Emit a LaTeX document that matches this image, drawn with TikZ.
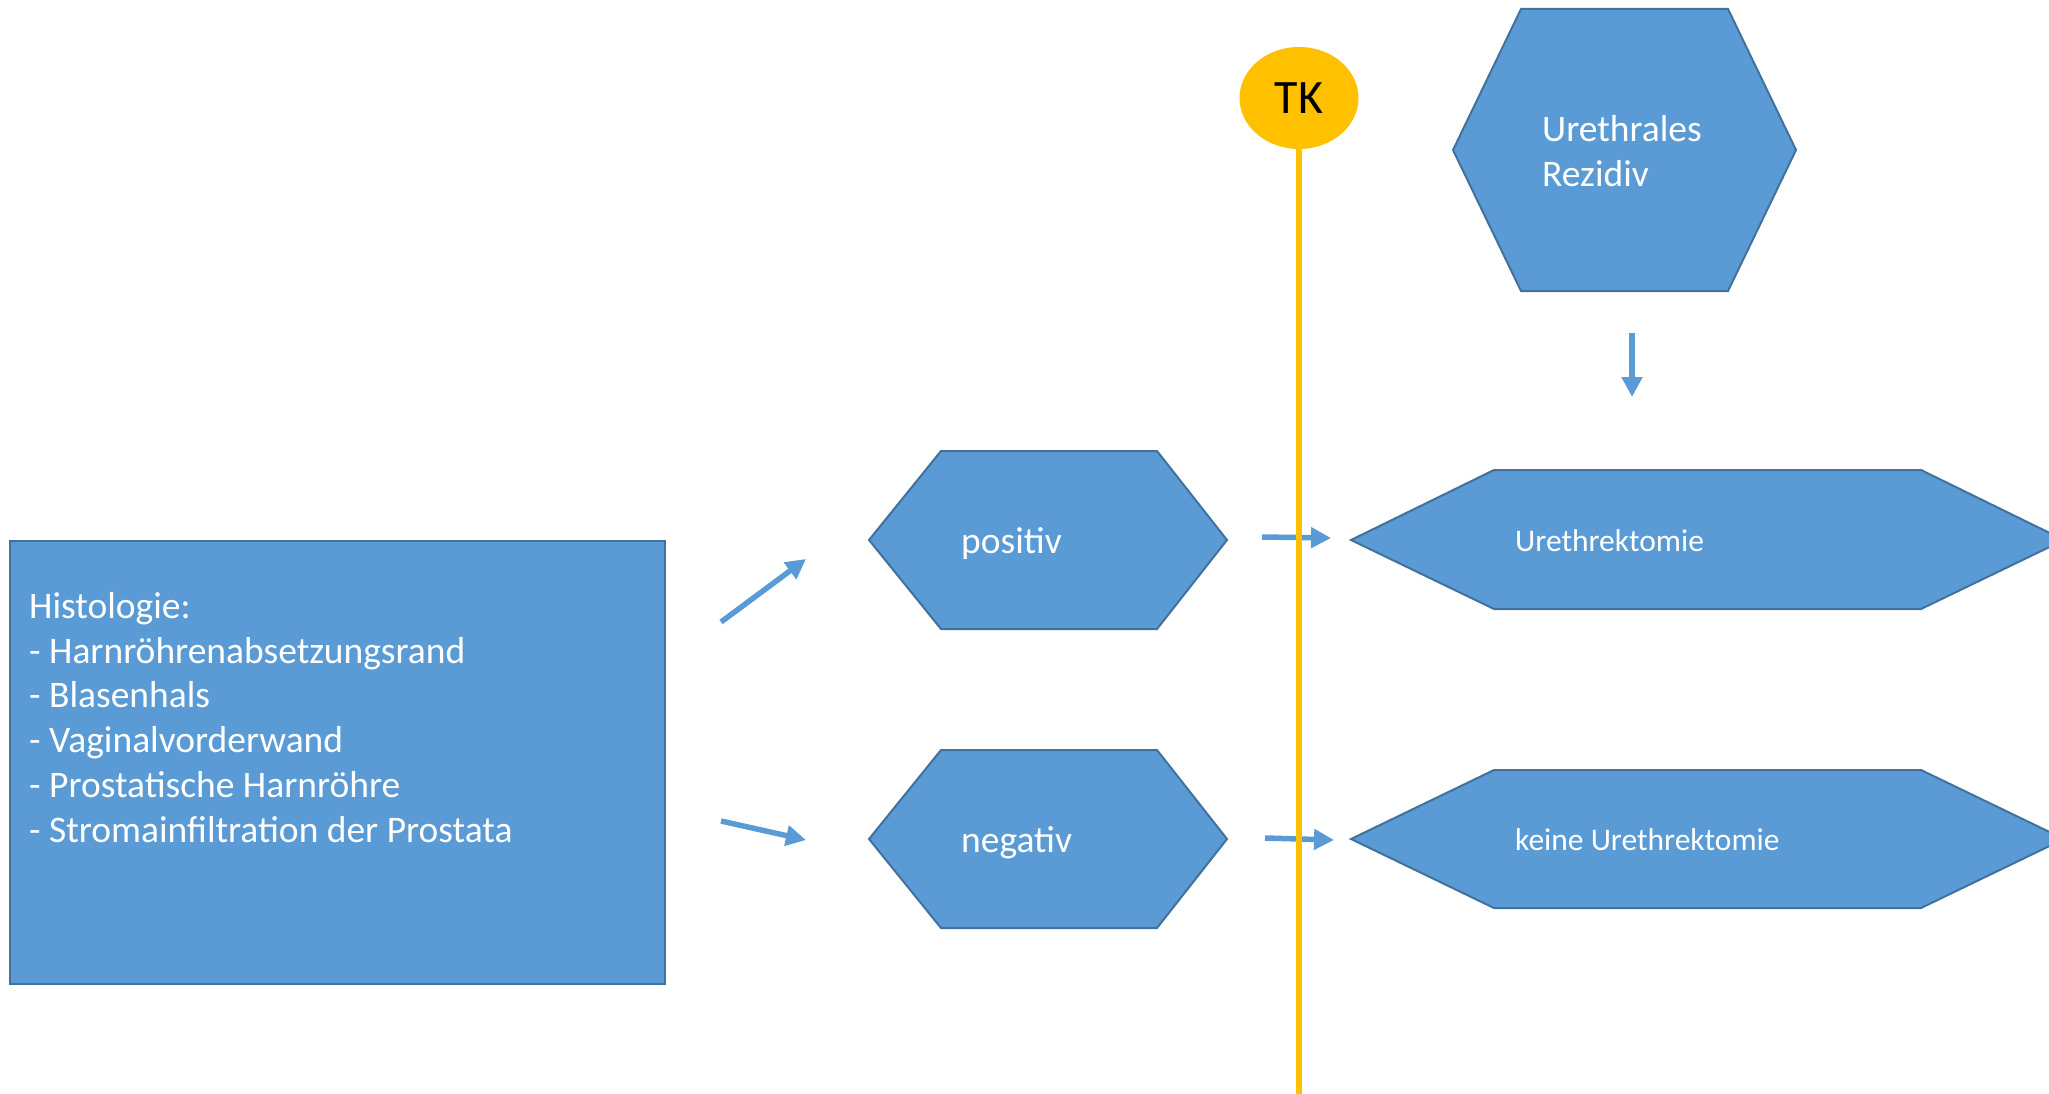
\documentclass[tikz,border=0pt]{standalone}
\usepackage{fontspec}
\setmainfont{Carlito}
\usetikzlibrary{arrows.meta,shapes.geometric}
\definecolor{hexfill}{HTML}{5B9BD5}
\definecolor{hexline}{HTML}{41719C}
\definecolor{tkyellow}{HTML}{FFC000}
\begin{document}
\begin{tikzpicture}[x=1pt,y=-1pt,
  shapebox/.style={fill=hexfill,draw=hexline,line width=2pt,line join=miter},
  flow/.style={draw=hexfill,line width=5.5pt,-{Triangle[length=20pt,width=20pt]}},
  wtext/.style={text=white,inner sep=0pt,font=\fontsize{37.5}{44.8}\selectfont},
  stext/.style={text=white,inner sep=0pt,font=\fontsize{31.5}{38}\selectfont}]
\useasboundingbox (0,0) rectangle (2049,1094);
\begin{scope}
\clip (0,0) rectangle (2049,1094);
% Histologie box
\node[shapebox,rectangle,minimum width=655pt,minimum height=443pt,anchor=north west,inner sep=0pt] (histo) at (9,540) {};
\node[wtext,anchor=north west,align=left] (histotext) at (29,592) {Histologie:\\- Harnröhrenabsetzungsrand\\- Blasenhals\\- Vaginalvorderwand\\- Prostatische Harnröhre\\- Stromainfiltration der Prostata};
% positiv / negativ hexagons
\path[shapebox] (869,540) -- (941,451) -- (1157,451) -- (1227,540) -- (1157,629) -- (941,629) -- cycle;
\node[wtext,anchor=base west] (pos) at (961,553) {positiv};
\path[shapebox] (869,839) -- (941,750) -- (1157,750) -- (1227,839) -- (1157,928) -- (941,928) -- cycle;
\node[wtext,anchor=base west] (neg) at (961,852) {negativ};
% Urethrales Rezidiv
\path[shapebox] (1453,150) -- (1521,9) -- (1728,9) -- (1796,150) -- (1728,291) -- (1521,291) -- cycle;
\node[wtext,anchor=north west,align=left] (rez) at (1542,115) {Urethrales\\Rezidiv};
% Urethrektomie hexagons
\path[shapebox] (1351,540) -- (1494,470) -- (1921,470) -- (2064,540) -- (1921,609) -- (1494,609) -- cycle;
\node[stext,anchor=base west] (ure) at (1515,551) {Urethrektomie};
\path[shapebox] (1351,839) -- (1494,770) -- (1921,770) -- (2064,839) -- (1921,908) -- (1494,908) -- cycle;
\node[stext,anchor=base west] (keine) at (1515,850) {keine Urethrektomie};
% arrows
\coordinate (a1s) at (721,622); \coordinate (a1e) at (806,559);
\coordinate (a2s) at (721,821); \coordinate (a2e) at (806,840);
\coordinate (a3s) at (1262,537); \coordinate (a3e) at (1331,538);
\coordinate (a4s) at (1265,838); \coordinate (a4e) at (1334,840);
\coordinate (a5s) at (1632,333); \coordinate (a5e) at (1632,397);
\draw[flow] (a1s) -- (a1e);
\draw[flow] (a2s) -- (a2e);
\draw[flow] (a3s) -- (a3e);
\draw[flow] (a4s) -- (a4e);
\draw[flow] (a5s) -- (a5e);
% TK timeline
\node[ellipse,fill=tkyellow,minimum width=119pt,minimum height=102pt,inner sep=0pt,font=\fontsize{48}{54}\selectfont] (tk) at (1299,98) {TK};
\coordinate (tkend) at (1299,1094);
\draw[tkyellow,line width=5.5pt] (tk.south) -- (tkend);
\end{scope}
\end{tikzpicture}
\end{document}
